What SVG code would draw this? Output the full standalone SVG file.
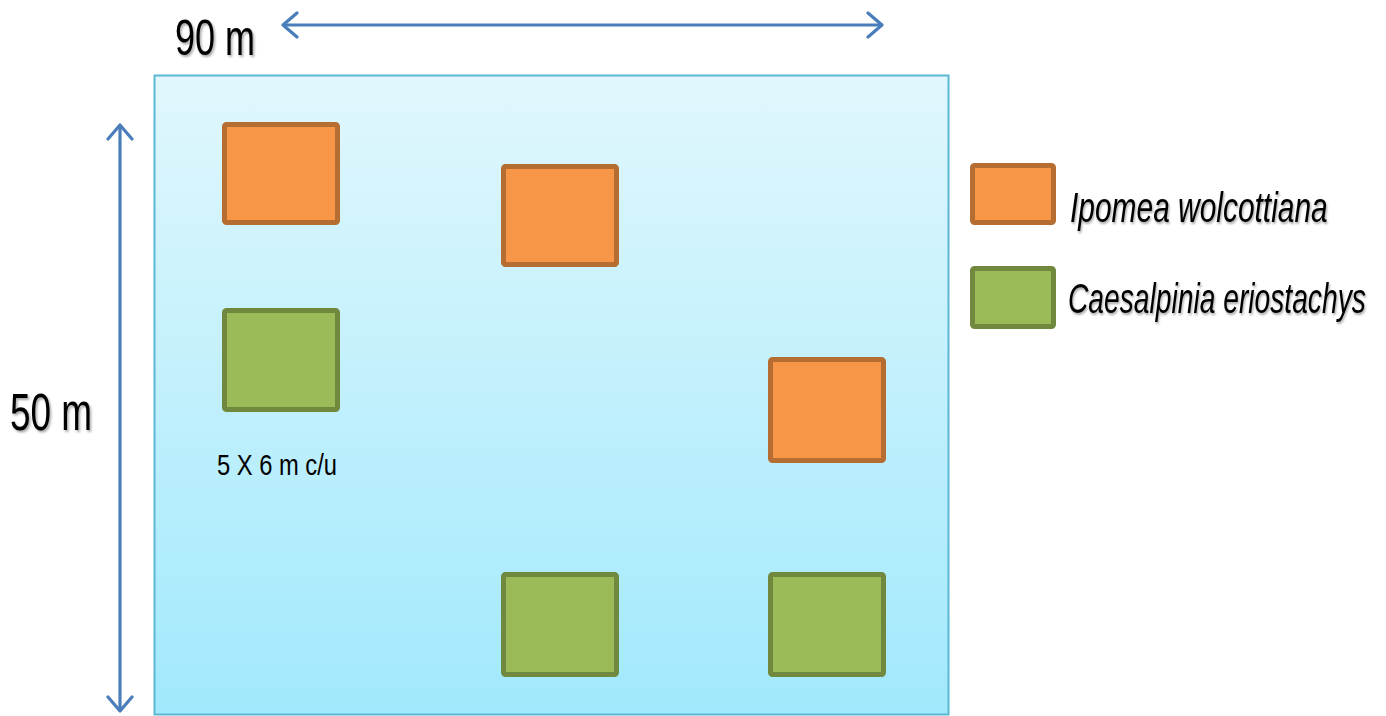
<svg xmlns="http://www.w3.org/2000/svg" width="1386" height="716" viewBox="0 0 1386 716">
<defs>
<linearGradient id="bg" x1="0" y1="0" x2="0" y2="1">
<stop offset="0" stop-color="#e1f7fd"/>
<stop offset="1" stop-color="#a1e9fc"/>
</linearGradient>
<filter id="sh" x="-10%" y="-30%" width="130%" height="170%">
<feDropShadow dx="1.5" dy="2" stdDeviation="1.2" flood-color="#000" flood-opacity="0.35"/>
</filter>
<marker id="chev" viewBox="0 0 20 30" refX="18" refY="15" markerWidth="20" markerHeight="30" markerUnits="userSpaceOnUse" orient="auto-start-reverse">
<path d="M4 3 L18 15 L4 27" fill="none" stroke="#4a7ebb" stroke-width="3.2" stroke-linecap="round" stroke-linejoin="round"/>
</marker>
<style>
.txt{font-family:"Liberation Sans",Arial,sans-serif;fill:#000}
.ital{font-style:italic}
.or{fill:#f79646;stroke:#b66d31;stroke-width:5}
.gr{fill:#9bbb59;stroke:#71893f;stroke-width:5}
.dim{stroke:#4a7ebb;stroke-width:3.2;fill:none}
</style>
</defs>
<rect width="1386" height="716" fill="#fff"/>
<g id="plot">
<rect x="154.5" y="75.5" width="794" height="639" fill="url(#bg)" stroke="#5bb7d3" stroke-width="2"/>
</g>
<g id="connectors">
<line class="dim" x1="283" y1="25" x2="882" y2="25" marker-start="url(#chev)" marker-end="url(#chev)"/>
<line class="dim" x1="120" y1="125" x2="120" y2="711" marker-start="url(#chev)" marker-end="url(#chev)"/>
</g>
<g id="label-90m"><text class="txt" x="175" y="55" font-size="50" textLength="80" lengthAdjust="spacingAndGlyphs" filter="url(#sh)">90 m</text></g>
<g id="label-50m"><text class="txt" x="10" y="430" font-size="51" textLength="82" lengthAdjust="spacingAndGlyphs" filter="url(#sh)">50 m</text></g>
<g id="plot-o1"><rect class="or" x="224.5" y="124.5" width="113" height="98" rx="2"/></g>
<g id="plot-o2"><rect class="or" x="503.5" y="166.5" width="113" height="98" rx="2"/></g>
<g id="plot-o3"><rect class="or" x="770.5" y="359.5" width="113" height="101" rx="2"/></g>
<g id="plot-g1"><rect class="gr" x="224.5" y="310.5" width="113" height="99" rx="2"/></g>
<g id="plot-g2"><rect class="gr" x="503.5" y="574.5" width="113" height="100" rx="2"/></g>
<g id="plot-g3"><rect class="gr" x="770.5" y="574.5" width="113" height="100" rx="2"/></g>
<g id="label-size"><text class="txt" x="217" y="475" font-size="30" textLength="120" lengthAdjust="spacingAndGlyphs" fill="#1a1a1a">5 X 6 m c/u</text></g>
<g id="legend-ipomea">
<rect class="or" x="972.5" y="165.5" width="81" height="57" rx="2"/>
<text class="txt ital" transform="translate(1070 222) scale(0.68 1)" x="0" y="0" font-size="42" textLength="379" lengthAdjust="spacingAndGlyphs" filter="url(#sh)">Ipomea wolcottiana</text>
</g>
<g id="legend-caesalpinia">
<rect class="gr" x="972.5" y="268.5" width="81" height="58" rx="2"/>
<text class="txt ital" transform="translate(1068 313) scale(0.68 1)" x="0" y="0" font-size="42" textLength="438" lengthAdjust="spacingAndGlyphs" filter="url(#sh)">Caesalpinia eriostachys</text>
</g>
</svg>
